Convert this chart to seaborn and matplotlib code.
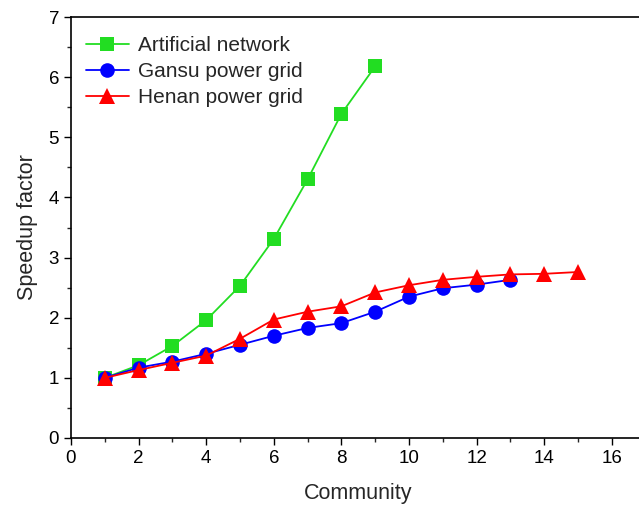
import matplotlib
matplotlib.use("Agg")
import matplotlib.pyplot as plt
import seaborn as sns
import pandas as pd
from matplotlib.ticker import MultipleLocator

sns.set_style("ticks")
plt.rcParams['font.family'] = ['Liberation Sans', 'DejaVu Sans']

x_art = [1, 2, 3, 4, 5, 6, 7, 8, 9]
y_art = [1.00, 1.21, 1.53, 1.96, 2.53, 3.31, 4.30, 5.39, 6.18]
x_gansu = [1, 2, 3, 4, 5, 6, 7, 8, 9, 10, 11, 12, 13]
y_gansu = [1.00, 1.17, 1.27, 1.40, 1.55, 1.70, 1.83, 1.91, 2.10, 2.35, 2.49, 2.55, 2.63]
x_henan = [1, 2, 3, 4, 5, 6, 7, 8, 9, 10, 11, 12, 13, 14, 15]
y_henan = [1.00, 1.13, 1.25, 1.37, 1.65, 1.97, 2.10, 2.19, 2.42, 2.54, 2.63, 2.68, 2.72, 2.73, 2.76]

series = ["Artificial network", "Gansu power grid", "Henan power grid"]
colors = ["#22dd22", "#0000ff", "#ff0000"]
markers = ["s", "o", "^"]
msizes = [9.5, 10.5, 12]

df = pd.concat([
    pd.DataFrame({"Community": x_art, "Speedup": y_art, "series": series[0]}),
    pd.DataFrame({"Community": x_gansu, "Speedup": y_gansu, "series": series[1]}),
    pd.DataFrame({"Community": x_henan, "Speedup": y_henan, "series": series[2]}),
])

fig = plt.figure(figsize=(6.39, 5.13), dpi=100)
ax = fig.add_axes([71/639, 1-438/513, (645.6-71)/639, (438-17)/513])

for s, c, m, ms in zip(series, colors, markers, msizes):
    sns.lineplot(data=df[df.series == s], x="Community", y="Speedup", ax=ax,
                 color=c, marker=m, markersize=ms, markeredgewidth=0,
                 linewidth=1.3, label=s)

ax.set_xlim(0, 17)
ax.set_ylim(0, 7)
ax.xaxis.set_major_locator(MultipleLocator(2))
ax.xaxis.set_minor_locator(MultipleLocator(1))
ax.yaxis.set_major_locator(MultipleLocator(1))
ax.yaxis.set_minor_locator(MultipleLocator(0.5))
ax.tick_params(which='major', direction='out', length=5, width=1, labelsize=13.5, colors='black')
ax.tick_params(which='minor', direction='out', length=3, width=1)
for sp in ax.spines.values():
    sp.set_color('black')
    sp.set_linewidth(1.2)
ax.set_xlabel("Community", fontsize=15.5, labelpad=12)
ax.set_ylabel("Speedup factor", fontsize=15.5, labelpad=8)

leg = ax.legend(loc='upper left', frameon=False, fontsize=15,
                handlelength=2.1, handletextpad=0.4, labelspacing=0.35,
                borderaxespad=0.3, bbox_to_anchor=(0.0, 0.99))

fig.savefig("out.png", dpi=100)
